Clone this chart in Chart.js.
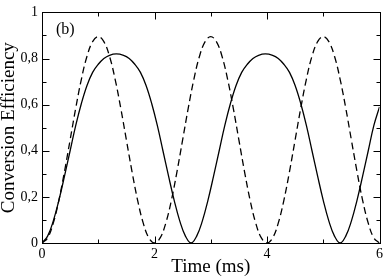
<!DOCTYPE html>
<html>
<head>
<meta charset="utf-8">
<script src="https://cdn.jsdelivr.net/npm/chart.js@4"></script>
<style>
  html, body { margin: 0; padding: 0; background: #fff; }
  #wrap { width: 386px; height: 277px; }
</style>
</head>
<body>
<div id="wrap"><canvas id="chart" width="386" height="277"></canvas></div>
<script>
// dashed curve, sampled every 0.1 ms
const dashedTimes = [0, 0.1, 0.2, 0.3, 0.4, 0.5, 0.6, 0.7, 0.8, 0.9, 1.0,
  1.1, 1.2, 1.3, 1.4, 1.5, 1.6, 1.7, 1.8, 1.9, 2.0,
  2.1, 2.2, 2.3, 2.4, 2.5, 2.6, 2.7, 2.8, 2.9, 3.0,
  3.1, 3.2, 3.3, 3.4, 3.5, 3.6, 3.7, 3.8, 3.9, 4.0,
  4.1, 4.2, 4.3, 4.4, 4.5, 4.6, 4.7, 4.8, 4.9, 5.0,
  5.1, 5.2, 5.3, 5.4, 5.5, 5.6, 5.7, 5.8, 5.9, 6.0];
const dashedValues = [0, 0.022, 0.086, 0.185, 0.31, 0.447, 0.585, 0.71, 0.81, 0.873, 0.895,
  0.873, 0.81, 0.71, 0.585, 0.447, 0.31, 0.185, 0.086, 0.022, 0,
  0.022, 0.086, 0.185, 0.31, 0.447, 0.585, 0.71, 0.81, 0.873, 0.895,
  0.873, 0.81, 0.71, 0.585, 0.447, 0.31, 0.185, 0.086, 0.022, 0,
  0.022, 0.086, 0.185, 0.31, 0.447, 0.585, 0.71, 0.81, 0.873, 0.895,
  0.873, 0.81, 0.71, 0.585, 0.447, 0.31, 0.185, 0.086, 0.022, 0];

// solid curve (zeros near 2.65 and 5.3 ms)
const solidTimes = [0, 0.1, 0.2, 0.3, 0.4, 0.5, 0.6, 0.7, 0.8, 0.9, 1.0, 1.1, 1.2, 1.32,
  1.45, 1.55, 1.65, 1.75, 1.85, 1.95, 2.05, 2.15, 2.25, 2.35, 2.45, 2.55, 2.65,
  2.75, 2.85, 2.95, 3.05, 3.15, 3.25, 3.35, 3.45, 3.55, 3.65, 3.75, 3.85, 3.97,
  4.1, 4.2, 4.3, 4.4, 4.5, 4.6, 4.7, 4.8, 4.9, 5.0, 5.1, 5.2, 5.3,
  5.4, 5.5, 5.6, 5.7, 5.8, 5.9, 6.0];
const solidValues = [0, 0.03, 0.095, 0.185, 0.29, 0.4, 0.51, 0.605, 0.683, 0.74, 0.775, 0.8, 0.814, 0.82,
  0.814, 0.8, 0.775, 0.74, 0.683, 0.605, 0.51, 0.4, 0.29, 0.185, 0.095, 0.03, 0,
  0.03, 0.095, 0.185, 0.29, 0.4, 0.51, 0.605, 0.683, 0.74, 0.775, 0.8, 0.814, 0.82,
  0.814, 0.8, 0.775, 0.74, 0.683, 0.605, 0.51, 0.4, 0.29, 0.185, 0.095, 0.03, 0,
  0.03, 0.095, 0.185, 0.29, 0.4, 0.51, 0.59];

const xTicks = [0, 2, 4, 6];
const xTickLabels = ['0', '2', '4', '6'];
const xMinorTicks = [1, 3, 5];
const yTicks = [0, 0.2, 0.4, 0.6, 0.8, 1];
const yTickLabels = ['0', '0,2', '0,4', '0,6', '0,8', '1'];
const yMinorTicks = [0.1, 0.3, 0.5, 0.7, 0.9];

function toPoints(xs, ys) {
  return xs.map((x, i) => ({ x: x, y: ys[i] }));
}

// box round the plot, inward ticks on all four sides, and the panel label
const framePlugin = {
  id: 'frame',
  afterDraw(chart) {
    const ctx = chart.ctx;
    const a = chart.chartArea;
    const xs = chart.scales.x, ys = chart.scales.y;
    const L = Math.round(a.left) + 0.5, R = Math.round(a.right) + 0.5;
    const T = Math.round(a.top) + 0.5, B = Math.round(a.bottom) + 0.5;
    ctx.save();
    ctx.strokeStyle = '#000';
    ctx.lineWidth = 1;
    ctx.strokeRect(L, T, R - L, B - T);
    ctx.beginPath();
    const xt = (v, len) => {
      const p = Math.round(xs.getPixelForValue(v)) + 0.5;
      ctx.moveTo(p, B); ctx.lineTo(p, B - len);
      ctx.moveTo(p, T); ctx.lineTo(p, T + len);
    };
    const yt = (v, len) => {
      const p = Math.round(ys.getPixelForValue(v)) + 0.5;
      ctx.moveTo(L, p); ctx.lineTo(L + len, p);
      ctx.moveTo(R, p); ctx.lineTo(R - len, p);
    };
    xTicks.forEach(v => xt(v, 7));
    xMinorTicks.forEach(v => xt(v, 4));
    yTicks.forEach(v => yt(v, 7));
    yMinorTicks.forEach(v => yt(v, 4));
    ctx.stroke();
    ctx.fillStyle = '#000';
    ctx.font = '16px "Liberation Serif"';
    ctx.textBaseline = 'middle';
    ctx.fillText('(b)', 56, 30);
    ctx.restore();
  }
};

new Chart(document.getElementById('chart'), {
  type: 'scatter',
  data: {
    datasets: [
      {
        label: 'solid',
        data: toPoints(solidTimes, solidValues),
        showLine: true,
        borderColor: '#000',
        borderWidth: 1.3,
        pointRadius: 0,
        tension: 0.4
      },
      {
        label: 'dashed',
        data: toPoints(dashedTimes, dashedValues),
        showLine: true,
        borderColor: '#000',
        borderWidth: 1.3,
        borderDash: [7, 4],
        pointRadius: 0,
        tension: 0.4
      }
    ]
  },
  options: {
    responsive: false,
    animation: false,
    layout: { padding: { top: 5, right: 5, left: 0, bottom: 0 } },
    plugins: {
      legend: { display: false },
      tooltip: { enabled: false }
    },
    scales: {
      x: {
        type: 'linear',
        min: 0,
        max: 6,
        afterBuildTicks: s => { s.ticks = xTicks.map(v => ({ value: v })); },
        afterFit: s => { s.height = 34; },
        grid: { display: false, drawTicks: false },
        border: { display: false },
        ticks: {
          autoSkip: false,
          maxRotation: 0,
          padding: 3,
          color: '#000',
          font: { family: 'Liberation Serif', size: 14 },
          callback: v => xTickLabels[xTicks.indexOf(v)]
        },
        title: {
          display: true,
          text: 'Time (ms)',
          color: '#000',
          font: { family: 'Liberation Serif', size: 19, lineHeight: 1 },
          padding: 0
        }
      },
      y: {
        type: 'linear',
        min: 0,
        max: 1,
        afterBuildTicks: s => { s.ticks = yTicks.map(v => ({ value: v })); },
        afterFit: s => { s.width = 42; },
        grid: { display: false, drawTicks: false },
        border: { display: false },
        ticks: {
          autoSkip: false,
          padding: 4,
          color: '#000',
          font: { family: 'Liberation Serif', size: 14 },
          callback: v => yTickLabels[yTicks.indexOf(v)]
        },
        title: {
          display: true,
          text: 'Conversion Efficiency',
          color: '#000',
          font: { family: 'Liberation Serif', size: 19, lineHeight: 1 },
          padding: 0
        }
      }
    }
  },
  plugins: [framePlugin]
});
</script>
</body>
</html>
